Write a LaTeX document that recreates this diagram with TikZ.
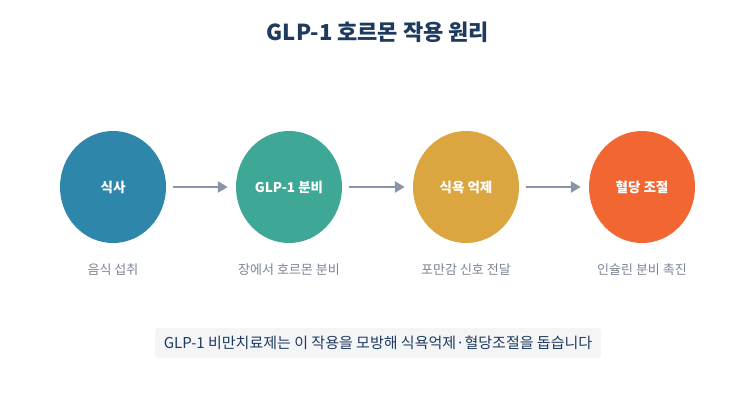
\documentclass[tikz,border=0pt]{standalone}
\usepackage{fontspec}
\setmainfont{Noto Sans CJK KR}
\usetikzlibrary{positioning,arrows.meta,shapes.geometric}
\definecolor{navy}{HTML}{1F3A5F}
\definecolor{stageA}{HTML}{2E86AB}
\definecolor{stageB}{HTML}{3FA796}
\definecolor{stageC}{HTML}{DBA53F}
\definecolor{stageD}{HTML}{F26632}
\definecolor{arrowgray}{HTML}{8A94A6}
\definecolor{subgray}{HTML}{7A8494}
\definecolor{boxgray}{HTML}{F4F5F7}
\tikzset{
    stage/.style = {ellipse, minimum width = 106pt, minimum height = 112pt, inner sep = 0pt,
        text = white, font = \bfseries\fontsize{13.5}{16}\selectfont},
    sub/.style = {text = subgray, font = \fontsize{13}{15}\selectfont},
    flow/.style = {-{Triangle[length = 10pt, width = 11pt]}, line width = 2.4pt, arrowgray}
}
\begin{document}
\begin{tikzpicture}[x = 1pt, y = -1pt]
    \useasboundingbox (0,0) rectangle (756,405);
    \node[font = \bfseries\fontsize{22}{26}\selectfont, text = navy] (title) at (378,32) {GLP-1 호르몬 작용 원리};
    \node[stage, fill = stageA] (eat) at (113,187) {식사};
    \node[stage, fill = stageB] (glp) at (289,187) {GLP-1 분비};
    \node[stage, fill = stageC] (appetite) at (466,187) {식욕 억제};
    \node[stage, fill = stageD] (sugar) at (642,187) {혈당 조절};
    \begin{scope}[every node/.append style = {sub}]
        \node (eatsub) at (113,270) {음식 섭취};
        \node (glpsub) at (289,270) {장에서 호르몬 분비};
        \node (appetitesub) at (466,270) {포만감 신호 전달};
        \node (sugarsub) at (642,270) {인슐린 분비 촉진};
    \end{scope}
    \draw[flow] ([xshift = 7pt]eat.east) -- ([xshift = -8pt]glp.west);
    \draw[flow] ([xshift = 7pt]glp.east) -- ([xshift = -8pt]appetite.west);
    \draw[flow] ([xshift = 7pt]appetite.east) -- ([xshift = -8pt]sugar.west);
    \node[fill = boxgray, rounded corners = 3pt, text = navy, minimum width = 446pt, minimum height = 30pt,
        font = \fontsize{15}{18}\selectfont] (note) at (378,343) {GLP-1 비만치료제는 이 작용을 모방해 식욕억제·혈당조절을 돕습니다};
\end{tikzpicture}
\end{document}
